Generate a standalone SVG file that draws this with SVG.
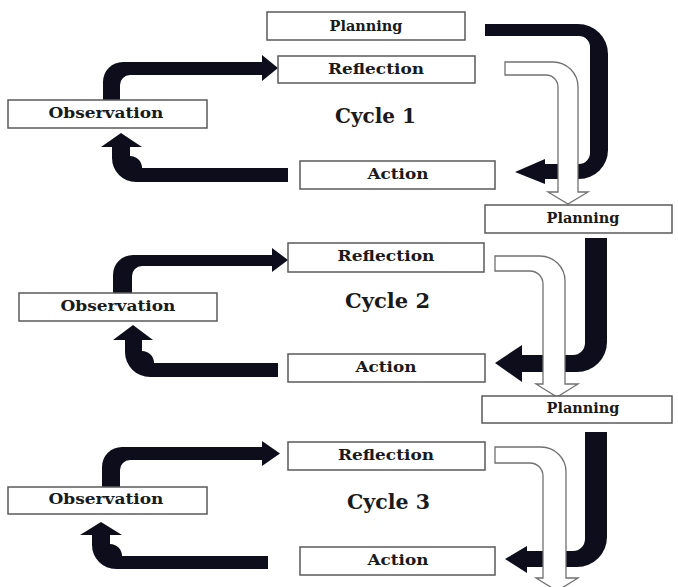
<svg xmlns="http://www.w3.org/2000/svg" width="678" height="587" viewBox="0 0 678 587">
<defs>
<style>
.box{fill:#fff;stroke:#5a5a5a;stroke-width:1.5}
.lbl{font-family:"DejaVu Serif","Liberation Serif",serif;font-weight:bold;font-size:14px;fill:#1a1a1a;text-anchor:middle}
.cyc{font-family:"DejaVu Serif","Liberation Serif",serif;font-weight:bold;font-size:20px;fill:#1a1a1a}
.blk{fill:#0b0b1c;filter:url(#soft)}
.wht{fill:#fff;stroke:#707070;stroke-width:1.3}
</style>
<filter id="soft" x="-10%" y="-10%" width="120%" height="120%"><feGaussianBlur stdDeviation="0.7"/></filter>
</defs>
<rect width="678" height="587" fill="#fff"/>

<g id="connectors">
<!-- Cycle 1 -->
<path class="blk" d="M103,100 L103,82 A20,20 0 0 1 123,62 L262,62 L262,55 L278,68 L262,81 L262,75 L130,75 A10,10 0 0 0 120,85 L120,100 Z"/>
<path class="blk" d="M288,168 L142,168 A12,12 0 0 0 130,156 L130,147 L142,147 L121,133 L101,147 L112,147 L112,158 A24,24 0 0 0 136,182 L288,182 Z"/>
<path class="blk" d="M485,24 L578,24 A30,30 0 0 1 608,54 L608,150 A29,29 0 0 1 579,179 L545,179 L545,184 L515,172 L545,159 L545,164 L579,164 A11,11 0 0 0 590,153 L590,47 A11,11 0 0 0 579,36 L485,36 Z"/>
<path class="wht" d="M505,62 L553,62 A25,25 0 0 1 578,87 L578,192 L588,192 L568,204 L548,192 L558,192 L558,87 A12,12 0 0 0 546,75 L505,75 Z"/>
<!-- Cycle 2 -->
<path class="blk" d="M113,293 L113,275 A20,20 0 0 1 133,255 L272,255 L272,248 L288,260 L272,272 L272,266 L142,266 A10,10 0 0 0 132,276 L132,293 Z"/>
<path class="blk" d="M278,363 L154,363 A12,12 0 0 0 142,351 L142,340 L153,340 L133,325 L113,340 L125,340 L125,352 A25,25 0 0 0 150,377 L278,377 Z"/>
<path class="blk" d="M585,238 L607,238 L607,342 A30,30 0 0 1 577,372 L522,372 L522,382 L495,363 L522,345 L522,355 L573,355 A12,12 0 0 0 585,343 Z"/>
<path class="wht" d="M495,256 L540,256 A25,25 0 0 1 565,281 L565,384 L578,384 L557,397 L536,384 L543,384 L543,284 A13,13 0 0 0 530,271 L495,271 Z"/>
<!-- Cycle 3 -->
<path class="blk" d="M102,487 L102,467 A20,20 0 0 1 122,447 L262,447 L262,441 L280,453.5 L262,466 L262,460 L130,460 A10,10 0 0 0 120,470 L120,487 Z"/>
<path class="blk" d="M268,556 L122,556 A12,12 0 0 0 110,544 L110,535 L122,535 L101,522 L80,535 L92,535 L92,545 A24,24 0 0 0 116,569 L268,569 Z"/>
<path class="blk" d="M585,432 L607,432 L607,537 A30,30 0 0 1 577,567 L527,567 L527,573 L505,559 L527,546 L527,551 L573,551 A12,12 0 0 0 585,539 Z"/>
<path class="wht" d="M495,447 L541,447 A25,25 0 0 1 566,472 L566,578 L578,578 L557,591 L536,578 L543,578 L543,476 A13,13 0 0 0 530,463 L495,463 Z"/>
</g>

<g id="planning1"><rect class="box" x="267" y="12" width="198" height="28"/><text class="lbl" x="366" y="31" textLength="73" lengthAdjust="spacingAndGlyphs">Planning</text></g>
<g id="reflection1"><rect class="box" x="278" y="56" width="197" height="27"/><text class="lbl" x="376" y="74" textLength="96" lengthAdjust="spacingAndGlyphs">Reflection</text></g>
<g id="observation1"><rect class="box" x="8" y="100" width="199" height="28"/><text class="lbl" x="106" y="118" textLength="115" lengthAdjust="spacingAndGlyphs">Observation</text></g>
<g id="action1"><rect class="box" x="300" y="161" width="195" height="28"/><text class="lbl" x="398" y="179" textLength="61" lengthAdjust="spacingAndGlyphs">Action</text></g>
<g id="cycle1"><text class="cyc" x="335" y="123" textLength="81" lengthAdjust="spacingAndGlyphs">Cycle 1</text></g>

<g id="planning2"><rect class="box" x="485" y="205" width="187" height="28"/><text class="lbl" x="583" y="223" textLength="73" lengthAdjust="spacingAndGlyphs">Planning</text></g>
<g id="reflection2"><rect class="box" x="288" y="243" width="196" height="29"/><text class="lbl" x="386" y="261" textLength="97" lengthAdjust="spacingAndGlyphs">Reflection</text></g>
<g id="observation2"><rect class="box" x="19" y="293" width="198" height="28"/><text class="lbl" x="118" y="311" textLength="115" lengthAdjust="spacingAndGlyphs">Observation</text></g>
<g id="action2"><rect class="box" x="288" y="354" width="197" height="28"/><text class="lbl" x="386" y="372" textLength="61" lengthAdjust="spacingAndGlyphs">Action</text></g>
<g id="cycle2"><text class="cyc" x="345" y="308" textLength="85" lengthAdjust="spacingAndGlyphs">Cycle 2</text></g>

<g id="planning3"><rect class="box" x="482" y="396" width="190" height="27"/><text class="lbl" x="583" y="413" textLength="73" lengthAdjust="spacingAndGlyphs">Planning</text></g>
<g id="reflection3"><rect class="box" x="288" y="442" width="197" height="28"/><text class="lbl" x="386" y="460" textLength="96" lengthAdjust="spacingAndGlyphs">Reflection</text></g>
<g id="observation3"><rect class="box" x="8" y="487" width="199" height="27"/><text class="lbl" x="106" y="504" textLength="115" lengthAdjust="spacingAndGlyphs">Observation</text></g>
<g id="action3"><rect class="box" x="300" y="547" width="195" height="28"/><text class="lbl" x="398" y="565" textLength="61" lengthAdjust="spacingAndGlyphs">Action</text></g>
<g id="cycle3"><text class="cyc" x="347" y="509" textLength="83" lengthAdjust="spacingAndGlyphs">Cycle 3</text></g>
</svg>
